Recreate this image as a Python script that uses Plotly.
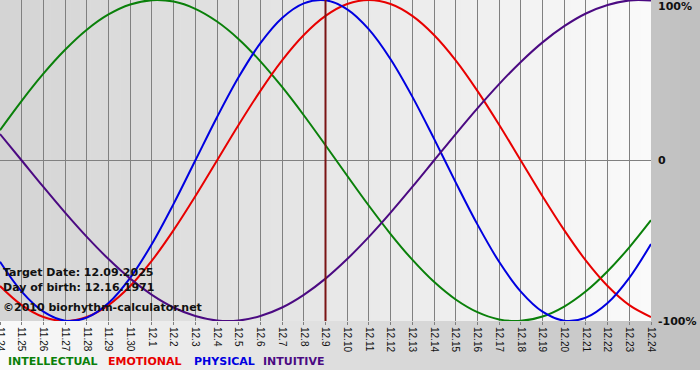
import plotly.graph_objects as go

# ---- data ----
dates = ["11.24", "11.25", "11.26", "11.27", "11.28", "11.29", "11.30",
         "12.1", "12.2", "12.3", "12.4", "12.5", "12.6", "12.7", "12.8", "12.9",
         "12.10", "12.11", "12.12", "12.13", "12.14", "12.15", "12.16", "12.17",
         "12.18", "12.19", "12.20", "12.21", "12.22", "12.23", "12.24"]

intellectual = [0.189, 0.372, 0.541, 0.690, 0.815, 0.910, 0.972, 0.999, 0.990, 0.945,
                0.866, 0.756, 0.618, 0.458, 0.282, 0.095, -0.095, -0.282, -0.458, -0.618,
                -0.756, -0.866, -0.945, -0.990, -0.999, -0.972, -0.910, -0.815, -0.690, -0.541,
                -0.372]
emotional = [-0.782, -0.901, -0.975, -1.0, -0.975, -0.901, -0.782, -0.624, -0.434, -0.223,
             0.0, 0.223, 0.434, 0.624, 0.782, 0.901, 0.975, 1.0, 0.975, 0.901,
             0.782, 0.624, 0.434, 0.223, 0.0, -0.223, -0.434, -0.624, -0.782, -0.901,
             -0.975]
physical = [-0.631, -0.817, -0.942, -0.998, -0.979, -0.888, -0.731, -0.520, -0.270, 0.0,
            0.270, 0.520, 0.731, 0.888, 0.979, 0.998, 0.942, 0.817, 0.631, 0.398,
            0.136, -0.136, -0.398, -0.631, -0.817, -0.942, -0.998, -0.979, -0.888, -0.731,
            -0.520]
intuitive = [0.165, 0.0, -0.165, -0.325, -0.476, -0.614, -0.736, -0.837, -0.916, -0.969,
             -0.997, -0.997, -0.969, -0.916, -0.837, -0.736, -0.614, -0.476, -0.325, -0.165,
             0.0, 0.165, 0.325, 0.476, 0.614, 0.736, 0.837, 0.916, 0.969, 0.997,
             0.997]

target_date = "12.9"
target_text = "Target Date: 12.09.2025"
birth_text = "Day of birth: 12.16.1971"
copyright_text = "©2010 biorhythm-calculator.net"

series_names = ["INTELLECTUAL", "EMOTIONAL", "PHYSICAL", "INTUITIVE"]
series_colors = ["#0a800a", "#e80000", "#0000e0", "#4b0a82"]
y_labels = ["100%", "0", "-100%"]
y_label_vals = [1, 0, -1]

# ---- layout geometry ----
W, H = 700, 380
PL, PR, PT, PB = 0, 651, 0, 321  # plot area pixel box
pw, ph = PR - PL, PB - PT


def px_x(px):
    return (px - PL) / pw


def px_y(py):
    return (PB - py) / ph


x = list(range(len(dates)))
fig = go.Figure()
for name, vals, col in zip(series_names, [intellectual, emotional, physical, intuitive], series_colors):
    fig.add_trace(go.Scatter(x=x, y=vals, mode="lines", name=name,
                             line=dict(color=col, width=2, shape="spline", smoothing=1.0),
                             hoverinfo="skip", showlegend=False, cliponaxis=False))

shapes = []


def lerp(c1, c2, t):
    return "#%02x%02x%02x" % tuple(int(round(a + (b - a) * t)) for a, b in zip(c1, c2))


# outer gradient (right strip + bottom band)
n = 70
for i in range(n):
    a = W * i / n
    b = W * (i + 1) / n + 0.6
    t = (i + 0.5) / n
    shapes.append(dict(type="rect", xref="paper", yref="paper", layer="below",
                       x0=px_x(a), x1=px_x(b), y0=px_y(370), y1=px_y(0),
                       fillcolor=lerp((250, 250, 250), (192, 192, 192), t), line=dict(width=0)))
# plot area gradient
n2 = 65
for i in range(n2):
    a = PL + pw * i / n2
    b = PL + pw * (i + 1) / n2 + 0.6
    t = (i + 0.5) / n2
    shapes.append(dict(type="rect", xref="paper", yref="paper", layer="below",
                       x0=px_x(a), x1=px_x(min(b, PR)), y0=0, y1=1,
                       fillcolor=lerp((212, 212, 212), (250, 250, 250), t), line=dict(width=0)))
# target-date marker
ti = dates.index(target_date)
shapes.append(dict(type="line", xref="x", yref="paper", layer="above",
                   x0=ti, x1=ti, y0=0, y1=1, line=dict(color="#7a1414", width=2)))

annotations = []
for lab, v in zip(y_labels, y_label_vals):
    annotations.append(dict(text="<b>%s</b>" % lab, xref="paper", yref="y", x=1, y=v,
                            xanchor="left", yanchor="top" if v == 1 else "middle",
                            xshift=5, yshift=2 if v == 1 else 0, showarrow=False,
                            font=dict(family="DejaVu Sans", size=11, color="#111111")))
for txt, cy in [(target_text, 272), (birth_text, 287), (copyright_text, 307)]:
    annotations.append(dict(text="<b>%s</b>" % txt, xref="paper", yref="paper",
                            x=px_x(1), y=px_y(cy), xanchor="left", yanchor="middle",
                            showarrow=False,
                            font=dict(family="DejaVu Sans", size=11, color="#111111")))
for name, col, lx in zip(series_names, series_colors, [6, 106, 192, 261]):
    annotations.append(dict(text="<b>%s</b>" % name, xref="paper", yref="paper",
                            x=px_x(lx), y=px_y(362), xanchor="left", yanchor="middle",
                            showarrow=False,
                            font=dict(family="DejaVu Sans", size=11, color=col)))

fig.update_layout(
    width=W, height=H,
    margin=dict(l=PL, r=W - PR, t=PT, b=H - PB, autoexpand=False),
    paper_bgcolor="white", plot_bgcolor="rgba(0,0,0,0)",
    shapes=shapes, annotations=annotations,
    xaxis=dict(range=[0, len(dates) - 1], tickvals=x, ticktext=dates, tickangle=90,
               showgrid=True, gridcolor="#808080", gridwidth=1, zeroline=False,
               ticks="outside", ticklen=3, tickcolor="#808080", automargin=False,
               ticklabeloverflow="allow",
               tickfont=dict(family="Liberation Sans", size=10, color="#111111"),
               showline=False, fixedrange=True),
    yaxis=dict(range=[-1, 1], tickvals=[0], showticklabels=False, showgrid=True,
               gridcolor="#808080", gridwidth=1, zeroline=False, showline=False,
               automargin=False, fixedrange=True),
    hovermode=False,
)

fig.write_html("out.html", config={"displayModeBar": False},
               post_script="document.body.style.margin='0';")
